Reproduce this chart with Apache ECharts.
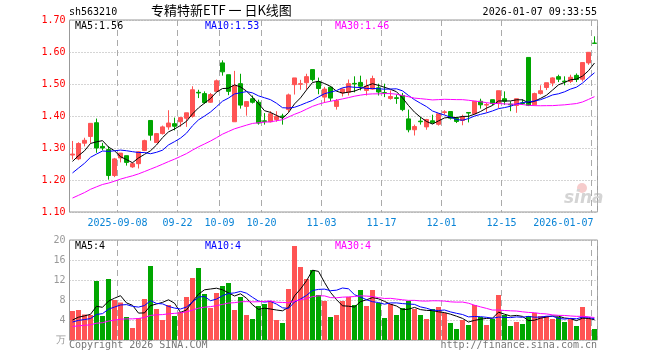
<!DOCTYPE html>
<html><head><meta charset="utf-8">
<script src="https://cdn.jsdelivr.net/npm/echarts@6/dist/echarts.min.js"></script>
<style>html,body{margin:0;padding:0;background:#fff}#c{width:660px;height:360px}</style>
</head><body><div id="c"></div>
<script>
// trading days shown
const dates = [
 '2025-08-27','2025-08-28','2025-08-29',
 '2025-09-01','2025-09-02','2025-09-03','2025-09-04','2025-09-05','2025-09-08','2025-09-09','2025-09-10','2025-09-11','2025-09-12',
 '2025-09-15','2025-09-16','2025-09-17','2025-09-18','2025-09-19','2025-09-22','2025-09-23','2025-09-24','2025-09-25','2025-09-26',
 '2025-09-29','2025-09-30',
 '2025-10-09','2025-10-10','2025-10-13','2025-10-14','2025-10-15','2025-10-16','2025-10-17','2025-10-20','2025-10-21','2025-10-22',
 '2025-10-23','2025-10-24','2025-10-27','2025-10-28','2025-10-29','2025-10-30','2025-10-31',
 '2025-11-03','2025-11-04','2025-11-05','2025-11-06','2025-11-07','2025-11-10','2025-11-11','2025-11-12','2025-11-13','2025-11-14',
 '2025-11-17','2025-11-18','2025-11-19','2025-11-20','2025-11-21','2025-11-24','2025-11-25','2025-11-26','2025-11-27','2025-11-28',
 '2025-12-01','2025-12-02','2025-12-03','2025-12-04','2025-12-05','2025-12-08','2025-12-09','2025-12-10','2025-12-11','2025-12-12',
 '2025-12-15','2025-12-16','2025-12-17','2025-12-18','2025-12-19','2025-12-22','2025-12-23','2025-12-24','2025-12-25','2025-12-26',
 '2025-12-29','2025-12-30','2025-12-31',
 '2026-01-05','2026-01-06','2026-01-07'
];
const opens = [1.278,1.266,1.315,1.336,1.379,1.305,1.295,1.214,1.269,1.276,
 1.241,1.251,1.292,1.386,1.317,1.345,1.366,1.376,1.382,1.393,
 1.399,1.474,1.470,1.443,1.477,1.566,1.529,1.382,1.501,1.430,
 1.454,1.443,1.385,1.382,1.389,1.400,1.420,1.498,1.499,1.504,
 1.545,1.507,1.459,1.490,1.430,1.472,1.474,1.502,1.505,1.480,
 1.484,1.488,1.473,1.455,1.457,1.464,1.391,1.357,1.384,1.366,
 1.385,1.374,1.411,1.414,1.393,1.386,1.411,1.407,1.446,1.434,
 1.451,1.441,1.454,1.437,1.433,1.441,1.583,1.435,1.470,1.489,
 1.503,1.523,1.509,1.508,1.527,1.515,1.566,1.628];
const closes = [1.281,1.314,1.324,1.377,1.300,1.300,1.214,1.266,1.284,1.255,
 1.251,1.288,1.323,1.340,1.345,1.366,1.378,1.368,1.395,1.410,
 1.482,1.472,1.442,1.467,1.510,1.538,1.477,1.495,1.434,1.445,
 1.443,1.378,1.383,1.407,1.399,1.398,1.466,1.519,1.501,1.523,
 1.514,1.486,1.484,1.456,1.448,1.484,1.501,1.500,1.493,1.493,
 1.517,1.475,1.471,1.461,1.455,1.420,1.357,1.367,1.382,1.389,
 1.379,1.407,1.413,1.393,1.383,1.397,1.409,1.446,1.435,1.436,
 1.439,1.479,1.446,1.435,1.454,1.439,1.433,1.470,1.479,1.504,
 1.519,1.515,1.507,1.521,1.514,1.567,1.599,1.627];
const lows = [1.264,1.262,1.305,1.316,1.285,1.293,1.201,1.209,1.255,1.245,
 1.238,1.236,1.290,1.323,1.316,1.342,1.357,1.355,1.366,1.366,
 1.395,1.456,1.438,1.441,1.475,1.526,1.465,1.382,1.423,1.401,
 1.439,1.373,1.373,1.380,1.382,1.373,1.411,1.467,1.482,1.483,
 1.508,1.468,1.441,1.446,1.420,1.461,1.464,1.474,1.480,1.464,
 1.482,1.464,1.459,1.451,1.438,1.415,1.349,1.339,1.373,1.357,
 1.376,1.370,1.404,1.389,1.378,1.371,1.380,1.405,1.423,1.411,
 1.434,1.425,1.435,1.415,1.410,1.435,1.431,1.433,1.467,1.481,
 1.493,1.506,1.496,1.503,1.506,1.508,1.560,1.627];
const highs = [1.322,1.318,1.332,1.377,1.392,1.316,1.305,1.269,1.284,1.276,
 1.255,1.290,1.326,1.386,1.347,1.370,1.418,1.395,1.395,1.410,
 1.493,1.482,1.477,1.472,1.514,1.574,1.529,1.541,1.532,1.445,
 1.464,1.451,1.409,1.415,1.415,1.407,1.470,1.519,1.513,1.532,
 1.545,1.520,1.491,1.493,1.453,1.487,1.514,1.524,1.526,1.514,
 1.526,1.501,1.501,1.480,1.467,1.472,1.420,1.373,1.397,1.391,
 1.404,1.407,1.418,1.414,1.397,1.404,1.411,1.446,1.454,1.441,
 1.451,1.479,1.477,1.446,1.454,1.452,1.583,1.473,1.496,1.504,
 1.521,1.529,1.524,1.529,1.533,1.567,1.600,1.649];
// volume (10k lots)
const volumes = [5.8,6.0,5.1,5.0,11.8,4.8,12.2,8.0,7.5,4.6,
 2.4,4.4,8.2,14.8,6.2,4.0,7.0,4.8,5.6,8.6,
 12.4,14.4,9.2,6.4,9.4,10.8,11.4,6.0,8.6,5.0,
 4.2,6.8,7.2,7.8,4.0,3.4,10.2,18.8,14.6,12.2,
 14.0,9.0,7.8,4.6,5.0,7.8,8.6,7.0,10.0,6.8,
 10.0,7.4,4.4,7.2,5.0,6.4,7.8,6.2,5.0,4.2,
 6.2,6.6,5.4,3.4,2.2,4.0,3.0,7.0,4.6,3.0,
 4.2,9.0,5.0,2.8,3.6,3.2,4.8,5.4,4.8,4.8,
 4.2,4.6,3.6,4.2,2.8,6.6,4.4,2.2];
// history before the window (estimated from the moving-average lines)
const priorCloses = [1.060,1.066,1.071,1.068,1.079,1.084,1.090,1.087,1.095,1.101,
 1.108,1.104,1.115,1.121,1.128,1.133,1.140,1.136,1.148,1.155,
 1.162,1.175,1.190,1.198,1.205,1.225,1.248,1.262,1.275];
const priorVolumes = [2.0,1.8,2.3,2.1,1.9,2.4,2.2,2.0,2.6,2.3,
 2.1,2.5,2.2,2.4,2.8,2.3,2.1,2.6,2.2,2.2,
 2.8,3.4,3.0,3.6,3.2,3.2,3.8,3.4,3.8];
const tickLabels = {
 '2025-09-08':'2025-09-08','2025-09-22':'09-22','2025-10-09':'10-09','2025-10-20':'10-20',
 '2025-11-03':'11-03','2025-11-17':'11-17','2025-12-01':'12-01','2025-12-15':'12-15','2026-01-07':'2026-01-07'
};
const volLineDates = ['2025-09-08','2025-09-22','2025-10-20','2025-11-03','2025-11-17','2025-12-01','2025-12-15','2026-01-07'];
const priceTicks = [1.10,1.20,1.30,1.40,1.50,1.60,1.70];
const volTicks = [0,4,8,12,16,20];

const RED='#ff5454', GREEN='#00a600';
const MONO='"DejaVu Sans Mono", monospace';

function ma(prior, vals, n){
  const all = prior.concat(vals);
  return vals.map((_, i) => {
    const j = prior.length + i; let s = 0;
    for (let k = j - n + 1; k <= j; k++) s += all[k];
    return +(s / n).toFixed(4);
  });
}
const candles = dates.map((_, i) => [opens[i], closes[i], lows[i], highs[i]]);
const volBars = volumes.map((v, i) => ({value: v, itemStyle: {color: closes[i] >= opens[i] ? RED : GREEN}}));
const xData = dates.map(d => d === '2026-01-07' ? {value: d, textStyle: {align: 'right', padding: [0, 1, 0, 0]}} : d);

const chart = echarts.init(document.getElementById('c'), null, {renderer: 'canvas'});
const dashV = {type: [6, 4], color: '#aaa', width: 1};
const dotH = {type: [1, 2], color: '#aaa', width: 1};
function lineSeries(data, color, xi, yi){
  return {type: 'line', data, xAxisIndex: xi, yAxisIndex: yi, symbol: 'none', smooth: false,
    lineStyle: {width: 1, color}, itemStyle: {color}, silent: true, z: 5};
}
chart.setOption({
  animation: false,
  backgroundColor: '#fff',
  grid: [
    {left: 69.5, top: 20, width: 528, height: 192, show: true, borderColor: '#999', borderWidth: 1},
    {left: 69.5, top: 240, width: 528, height: 100, show: true, borderColor: '#999', borderWidth: 1}
  ],
  xAxis: [
    {type: 'category', gridIndex: 0, data: xData, boundaryGap: true,
     axisLine: {show: false}, axisTick: {show: false},
     axisLabel: {interval: (i, v) => tickLabels[v] !== undefined, formatter: v => tickLabels[v] || '',
       color: '#0a84d6', fontFamily: MONO, fontSize: 10, margin: 6, padding: [0, 6, 0, 0]},
     splitLine: {show: true, interval: (i, v) => tickLabels[v] !== undefined, lineStyle: dashV}},
    {type: 'category', gridIndex: 1, data: dates, boundaryGap: true,
     axisLine: {show: false}, axisTick: {show: false}, axisLabel: {show: false},
     splitLine: {show: true, interval: (i, v) => volLineDates.includes(v), lineStyle: dashV}}
  ],
  yAxis: [
    {type: 'value', gridIndex: 0, min: priceTicks[0], max: priceTicks[priceTicks.length-1], interval: 0.1,
     axisLine: {show: false}, axisTick: {show: false},
     axisLabel: {color: '#ff0000', fontFamily: MONO, fontSize: 10, margin: 4, formatter: v => v.toFixed(2)},
     splitLine: {show: true, lineStyle: dotH}},
    {type: 'value', gridIndex: 1, min: volTicks[0], max: volTicks[volTicks.length-1], interval: 4,
     axisLine: {show: false}, axisTick: {show: false},
     axisLabel: {color: '#999', fontFamily: MONO, fontSize: 10, margin: 4, formatter: v => v === 0 ? '万' : String(v)},
     splitLine: {show: true, lineStyle: dotH}}
  ],
  series: [
    {type: 'candlestick', data: candles, xAxisIndex: 0, yAxisIndex: 0, barWidth: 5,
     itemStyle: {color: RED, color0: GREEN, borderColor: RED, borderColor0: GREEN, borderWidth: 1}, z: 3},
    lineSeries(ma(priorCloses, closes, 5), '#000000', 0, 0),
    lineSeries(ma(priorCloses, closes, 10), '#0000ff', 0, 0),
    lineSeries(ma(priorCloses, closes, 30), '#ff00ff', 0, 0),
    {type: 'bar', data: volBars, xAxisIndex: 1, yAxisIndex: 1, barWidth: 5, z: 3},
    lineSeries(ma(priorVolumes, volumes, 5), '#000000', 1, 1),
    lineSeries(ma(priorVolumes, volumes, 10), '#0000ff', 1, 1),
    lineSeries(ma(priorVolumes, volumes, 30), '#ff00ff', 1, 1)
  ],
  graphic: [
    {type: 'text', left: 69, top: 7, style: {text: 'sh563210', fill: '#000', font: '10px ' + MONO}},
    {type: 'text', left: 151, top: 4, style: {text: '专精特新ETF 一 日K线图', fill: '#000', font: '13px "Noto Sans CJK SC"'}},
    {type: 'text', right: 63, top: 7, style: {text: '2026-01-07 09:33:55', fill: '#000', font: '10px ' + MONO}},
    {type: 'text', left: 75, top: 21, style: {text: 'MA5:1.56', fill: '#000', font: '10px ' + MONO}},
    {type: 'text', left: 205, top: 21, style: {text: 'MA10:1.53', fill: '#0000ff', font: '10px ' + MONO}},
    {type: 'text', left: 335, top: 21, style: {text: 'MA30:1.46', fill: '#ff00ff', font: '10px ' + MONO}},
    {type: 'text', left: 75, top: 241, style: {text: 'MA5:4', fill: '#000', font: '10px ' + MONO}},
    {type: 'text', left: 205, top: 241, style: {text: 'MA10:4', fill: '#0000ff', font: '10px ' + MONO}},
    {type: 'text', left: 335, top: 241, style: {text: 'MA30:4', fill: '#ff00ff', font: '10px ' + MONO}},
    {type: 'text', left: 69, top: 340, style: {text: 'Copyright 2026 SINA.COM', fill: '#777', font: '10px ' + MONO}},
    {type: 'text', right: 63, top: 340, style: {text: 'http://finance.sina.com.cn', fill: '#777', font: '10px ' + MONO}},
    {type: 'circle', shape: {cx: 582, cy: 188, r: 5}, style: {fill: '#f6cccc'}, silent: true},
    {type: 'text', left: 564, top: 190, style: {text: 'sina', fill: '#d4d4d4', font: 'italic bold 17px "DejaVu Sans"'}, silent: true}
  ]
});
</script>
</body></html>
